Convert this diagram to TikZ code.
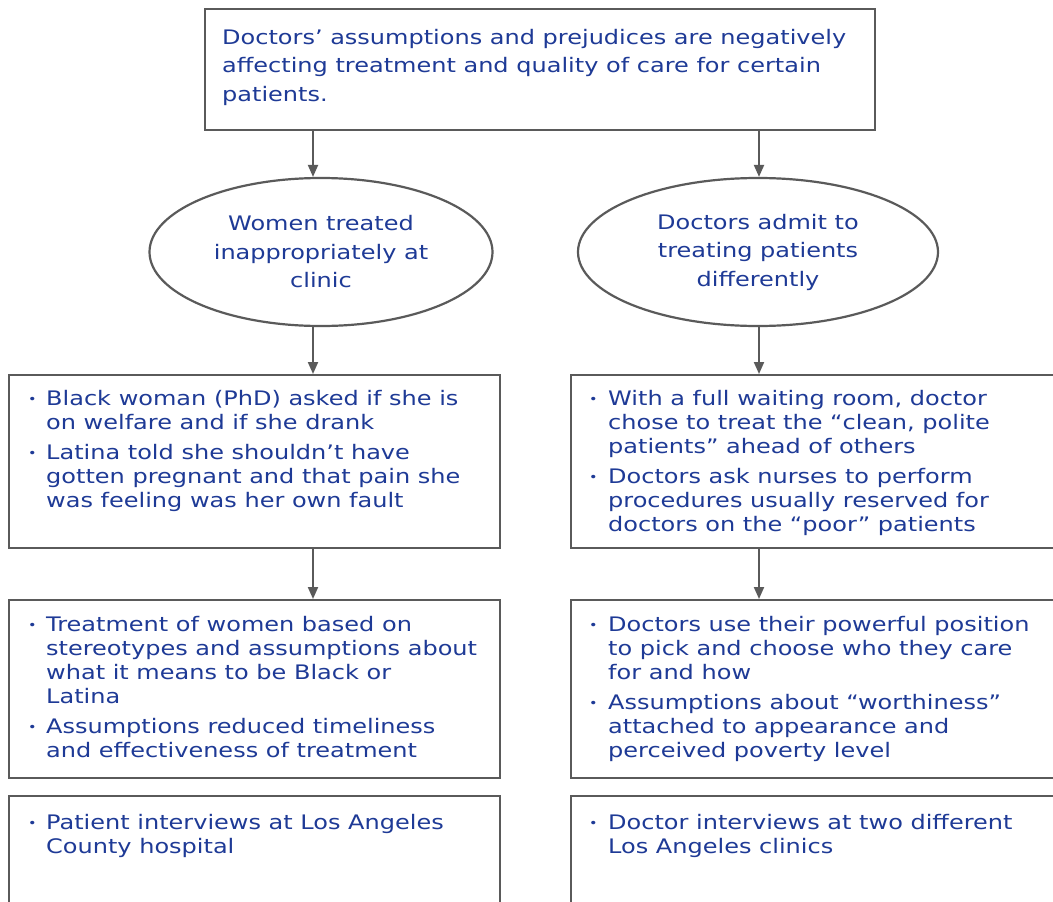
\documentclass[tikz,border=0pt]{standalone}
\usepackage{fontspec}
\setmainfont[FakeStretch=1.2]{DejaVu Sans}
\usetikzlibrary{shapes.geometric,arrows.meta,positioning,calc}
\definecolor{inkblue}{RGB}{30,58,150}
\definecolor{linegray}{RGB}{90,90,90}
\newcommand\itemdot{\raisebox{2pt}{\fontsize{12}{12}\selectfont\textbullet}}

\begin{document}
\begin{tikzpicture}[x=1pt,y=-1pt,
					box/.style={draw=linegray, line width=2.2pt, rectangle, anchor=north west, inner sep=0pt},
					oval/.style={draw=linegray, line width=2.2pt, ellipse, inner sep=0pt, text=inkblue, align=center, font=\fontsize{20}{28.5}\selectfont},
					txt/.style={anchor=north west, inner sep=0pt, text=inkblue, align=left, font=\fontsize{20}{24}\selectfont},
					arrow/.style={-{Triangle[length=12pt,width=10pt]}, draw=linegray, line width=2pt}]
					\clip (0,0) rectangle (1053,902);
					\fill[white] (0,0) rectangle (1053,902);
					\coordinate (lcol) at (313,0);
					\coordinate (rcol) at (759,0);
					
					% main claim
					\node[box, minimum width=670, minimum height=121] (claim) at (204,8) {};
					\node[txt, font=\fontsize{20}{28.5}\selectfont] (claimtxt) at (222,29) {Doctors’ assumptions and prejudices are negatively\\affecting treatment and quality of care for certain\\patients.};
					
					% reasons
					\node[oval, minimum width=343, minimum height=148] (lell) at (321,252) {Women treated\\inappropriately at\\clinic};
					\node[oval, minimum width=360, minimum height=148] (rell) at (758,252) {Doctors admit to\\treating patients\\differently};
					
					% evidence
					\node[box, minimum width=491, minimum height=173] (lfind) at (8,374) {};
					\node[txt] (lfindtxt) at (28,388) {\begin{tabular}{@{}p{18pt}@{}l@{}}
						\itemdot & Black woman (PhD) asked if she is\\
						& on welfare and if she drank\\[6pt]
						\itemdot & Latina told she shouldn’t have\\
						& gotten pregnant and that pain she\\
						& was feeling was her own fault
					\end{tabular}};
					\node[box, minimum width=490, minimum height=173] (rfind) at (570,374) {};
					\node[txt] (rfindtxt) at (589,388) {\begin{tabular}{@{}p{19pt}@{}l@{}}
						\itemdot & With a full waiting room, doctor\\
						& chose to treat the “clean, polite\\
						& patients” ahead of others\\[6pt]
						\itemdot & Doctors ask nurses to perform\\
						& procedures usually reserved for\\
						& doctors on the “poor” patients
					\end{tabular}};
					
					% meaning
					\node[box, minimum width=491, minimum height=178] (lmean) at (8,599) {};
					\node[txt] (lmeantxt) at (28,614) {\begin{tabular}{@{}p{18pt}@{}l@{}}
						\itemdot & Treatment of women based on\\
						& stereotypes and assumptions about\\
						& what it means to be Black or\\
						& Latina\\[6pt]
						\itemdot & Assumptions reduced timeliness\\
						& and effectiveness of treatment
					\end{tabular}};
					\node[box, minimum width=490, minimum height=178] (rmean) at (570,599) {};
					\node[txt] (rmeantxt) at (589,614) {\begin{tabular}{@{}p{19pt}@{}l@{}}
						\itemdot & Doctors use their powerful position\\
						& to pick and choose who they care\\
						& for and how\\[6pt]
						\itemdot & Assumptions about “worthiness”\\
						& attached to appearance and\\
						& perceived poverty level
					\end{tabular}};
					
					% sources
					\node[box, minimum width=491, minimum height=130] (lsrc) at (8,795) {};
					\node[txt] (lsrctxt) at (28,812) {\begin{tabular}{@{}p{18pt}@{}l@{}}
						\itemdot & Patient interviews at Los Angeles\\
						& County hospital
					\end{tabular}};
					\node[box, minimum width=490, minimum height=130] (rsrc) at (570,795) {};
					\node[txt] (rsrctxt) at (589,812) {\begin{tabular}{@{}p{19pt}@{}l@{}}
						\itemdot & Doctor interviews at two different\\
						& Los Angeles clinics
					\end{tabular}};
					
					\draw[arrow] (claim.south -| lcol) -- (lell.north -| lcol);
					\draw[arrow] (claim.south -| rcol) -- (rell.north -| rcol);
					\draw[arrow] (lell.south -| lcol) -- (lfind.north -| lcol);
					\draw[arrow] (rell.south -| rcol) -- (rfind.north -| rcol);
					\draw[arrow] (lfind.south -| lcol) -- (lmean.north -| lcol);
					\draw[arrow] (rfind.south -| rcol) -- (rmean.north -| rcol);
				\end{tikzpicture}
\end{document}
